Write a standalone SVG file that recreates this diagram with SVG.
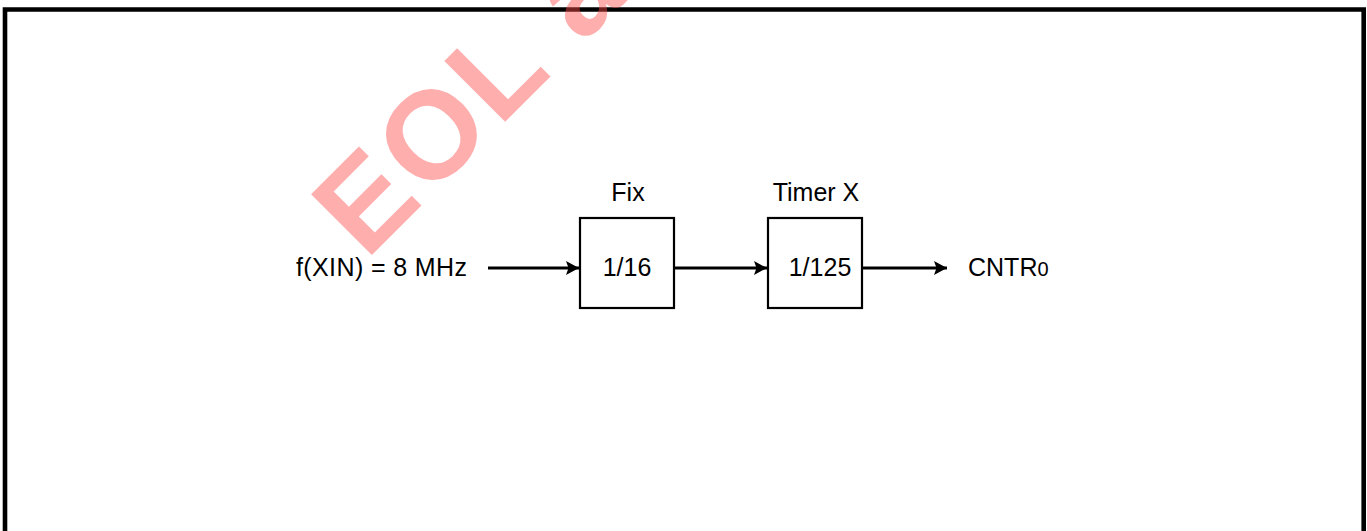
<svg xmlns="http://www.w3.org/2000/svg" width="1367" height="531" viewBox="0 0 1367 531">
  <style>
    .lbl { font-family: "Liberation Sans", Arial, sans-serif; font-size: 25px; fill: #000; }
    .box { fill: #fff; stroke: #000; stroke-width: 2.2; }
    .conn { stroke: #000; stroke-width: 3; fill: none; }
    .wm { font-family: "Liberation Sans", Arial, sans-serif; font-weight: bold; font-size: 125px; fill: #ff4d4d; opacity: 0.45; }
  </style>
  <defs>
    <marker id="arrow" markerUnits="userSpaceOnUse" viewBox="0 0 13 14" markerWidth="13" markerHeight="14" refX="13" refY="7" orient="auto">
      <path d="M0,0 L13,7 L0,14 L2.5,7 z" fill="#000"/>
    </marker>
  </defs>
  <rect width="1367" height="531" fill="#fff"/>
  <path id="frame" d="M5,531 V9.5 H1363.7 V531" fill="none" stroke="#000" stroke-width="4.6"/>

  <g id="input">
    <text class="lbl" x="296" y="276" textLength="171" lengthAdjust="spacing">f(XIN) = 8 MHz</text>
  </g>
  <g id="fix">
    <text class="lbl" x="628" y="201" text-anchor="middle">Fix</text>
    <rect class="box" x="580" y="218" width="94" height="90"/>
    <text class="lbl" x="627" y="276" text-anchor="middle">1/16</text>
  </g>
  <g id="timerx">
    <text class="lbl" x="816" y="201" text-anchor="middle">Timer X</text>
    <rect class="box" x="768" y="218" width="94" height="90"/>
    <text class="lbl" x="820" y="276" text-anchor="middle">1/125</text>
  </g>
  <g id="output">
    <text class="lbl" x="968" y="276">CNTR<tspan font-size="20">0</tspan></text>
  </g>
  <g id="connectors">
    <line class="conn" x1="488" y1="268" x2="579" y2="268" marker-end="url(#arrow)"/>
    <line class="conn" x1="675" y1="268" x2="767" y2="268" marker-end="url(#arrow)"/>
    <line class="conn" x1="863" y1="268" x2="947" y2="268" marker-end="url(#arrow)"/>
  </g>
  <g id="watermark">
    <text class="wm" x="366" y="261" letter-spacing="4" transform="rotate(-45 366 261)">EOL a</text>
  </g>
</svg>
